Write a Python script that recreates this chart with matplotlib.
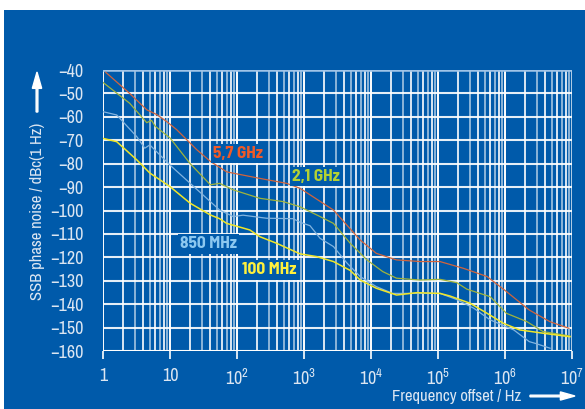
import numpy as np
import matplotlib
matplotlib.use("Agg")
import matplotlib.pyplot as plt
from matplotlib.patches import Rectangle, FancyArrow

plt.rcParams['font.family'] = ['Archivo Narrow', 'Liberation Sans', 'DejaVu Sans']
plt.rcParams['mathtext.fontset'] = 'custom'
plt.rcParams['mathtext.rm'] = 'Archivo Narrow'

# 5,7 GHz
red_f = [1.1, 2.5, 4.5, 6.3, 8.9, 12.6, 25, 40, 70, 220, 550, 870, 2750, 6900,
         12000, 24000, 54000, 1.07e5, 2.4e5, 5.4e5, 1.05e6, 2.3e6, 4.7e6, 9e6]
red_db = [-41, -50, -57, -59, -62, -65.5, -74, -79, -83.5, -86.3, -88.4, -90.5, -99.8, -112.6,
          -118.3, -121.1, -121.8, -121.8, -124.7, -128.2, -134.6, -142.5, -147.5, -150.3]

# 2,1 GHz
olive_f = [1, 2.5, 4.5, 5.3, 6, 10, 20, 40, 55, 88, 220, 490, 870, 1740, 2750, 4900, 8700,
           15000, 24000, 54000, 1.07e5, 1.9e5, 2.7e5, 6e5, 1.05e6, 2.1e6, 3.7e6, 9.3e6]
olive_db = [-45.3, -54.2, -62.5, -61.5, -64, -69, -80, -89, -88.4, -91.2, -94.8, -96.2, -98.4, -102.6,
            -105.5, -114, -121.1, -126.1, -128.9, -129.7, -129.4, -130.8, -133.6, -136.8, -143.9,
            -147.4, -151.7, -153.6]

# 850 MHz
blue_f = [1, 1.6, 3.2, 4.2, 5, 10, 20, 40, 55, 88, 123, 275, 690, 870, 1230, 1740, 2750, 4400,
          6900, 12000, 21000, 54000, 1.07e5, 1.9e5, 3.4e5, 6e5, 1.35e6, 2.3e6, 2.8e6, 4.7e6]
blue_db = [-57.8, -59.2, -68.5, -73.4, -72, -80.6, -88.4, -96.2, -99.8, -102.6, -102, -103.3, -103.5,
           -105, -106.5, -111.9, -115.4, -122.5, -128.2, -132.5, -135.4, -135.4, -135.4, -138, -141.7,
           -146.7, -151, -156, -156.7, -158.8]

# 100 MHz
yellow_f = [1, 1.6, 3.2, 5, 10, 20, 40, 55, 70, 155, 220, 390, 870, 1550, 2750, 4900, 6900, 12000,
            24000, 48000, 1.07e5, 1.5e5, 3e5, 5.4e5, 9.5e5, 1.66e6, 3.7e6, 9.3e6]
yellow_db = [-69.2, -70.6, -78.4, -84, -89.8, -96.9, -101.9, -103.5, -105.5, -108.3, -111.2, -114,
             -118.5, -119.7, -121.8, -125.6, -129.7, -133.2, -136.1, -135.1, -135.4, -136.5, -139.6,
             -143.9, -148.2, -151, -152.4, -153.9]

yticks = list(range(-40, -161, -10))
xticks = [1, 10, 1e2, 1e3, 1e4, 1e5, 1e6, 1e7]
xlabels = ['1', '10', r'$\mathregular{10^2}$', r'$\mathregular{10^3}$', r'$\mathregular{10^4}$',
           r'$\mathregular{10^5}$', r'$\mathregular{10^6}$', r'$\mathregular{10^7}$']

bg = '#005aaa'
txt = '#dce6f2'

fig = plt.figure(figsize=(5.85, 4.09), dpi=100, facecolor='white')
fig.patches.append(Rectangle((4 / 585, 0), 1, 399 / 409, transform=fig.transFigure,
                             facecolor=bg, edgecolor='none', zorder=-10))
ax = fig.add_axes([103 / 585, 1 - 351 / 409, 469 / 585, 281 / 409])
ax.set_facecolor(bg)
ax.set_xscale('log')
ax.set_xlim(1, 1e7)
ax.set_ylim(-160, -40)

# grid
for d in range(7):
    for m in range(2, 10):
        ax.axvline(m * 10 ** d, color='white', lw=1.4, alpha=0.55 if m % 2 else 0.85, zorder=1)
    ax.axvline(10 ** d, color='white', lw=1.4, zorder=1)
ax.axvline(1e7, color='white', lw=1.4, alpha=0.7, zorder=1)
for y in yticks:
    ax.axhline(y, color='white', lw=1.5, alpha=0.9 if y > -160 else 1, zorder=1)
ax.axhline(-40, color='#a0c4e8', lw=1.8, zorder=1)

ax.plot(red_f, red_db, color='#d2643c', lw=0.9, zorder=3)
ax.plot(olive_f, olive_db, color='#a0b43c', lw=0.9, zorder=3)
ax.plot(blue_f, blue_db, color='#82b4e0', lw=0.9, zorder=3)
ax.plot(yellow_f, yellow_db, color='#f0e628', lw=1.1, zorder=3)

lab = dict(fontsize=12.5, fontweight='bold', zorder=4, va='center', ha='left',
           family=['Barlow Semi Condensed', 'DejaVu Sans'])
box = dict(facecolor=bg, edgecolor='none', pad=1.5)
ax.text(44, -75.7, '5,7 GHz', color='#f05a28', bbox=box, **lab)
ax.text(660, -85.5, '2,1 GHz', color='#b4d232', bbox=box, **lab)
ax.text(14, -114.3, '850 MHz', color='#8cc8f0', bbox=box, **lab)
ax.text(119, -125.4, '100 MHz', color='#fff03c', bbox=box, **lab)

for s in ax.spines.values():
    s.set_visible(False)
ax.set_yticks(yticks)
ax.set_yticklabels(['\u2212%d' % (-y) for y in yticks])
ax.set_xticks(xticks)
ax.set_xticklabels(xlabels)
ax.minorticks_off()
ax.tick_params(axis='y', length=0, pad=14, labelsize=13, labelcolor=txt)
ax.tick_params(axis='x', length=6, width=1.2, color='white', direction='out', pad=6,
               labelsize=13, labelcolor=txt)

fig.text(38 / 585, 1 - 211 / 409, 'SSB phase noise / dBc(1 Hz)', rotation=90, color=txt,
         fontsize=12, ha='center', va='center')
fig.text(457 / 585, 1 - 396 / 409, 'Frequency offset / Hz', color=txt, fontsize=12,
         ha='center', va='center')
fig.patches.append(FancyArrow(37 / 585, 1 - 112 / 409, 0, 40 / 409,
                              width=0.003, head_width=0.016, head_length=0.04,
                              length_includes_head=True, transform=fig.transFigure, color='white'))
fig.patches.append(FancyArrow(530 / 585, 1 - 396 / 409, 45 / 585, 0,
                              width=0.004, head_width=0.02, head_length=0.025,
                              length_includes_head=True, transform=fig.transFigure, color='white'))

fig.savefig('out.png', dpi=100, facecolor='white')
